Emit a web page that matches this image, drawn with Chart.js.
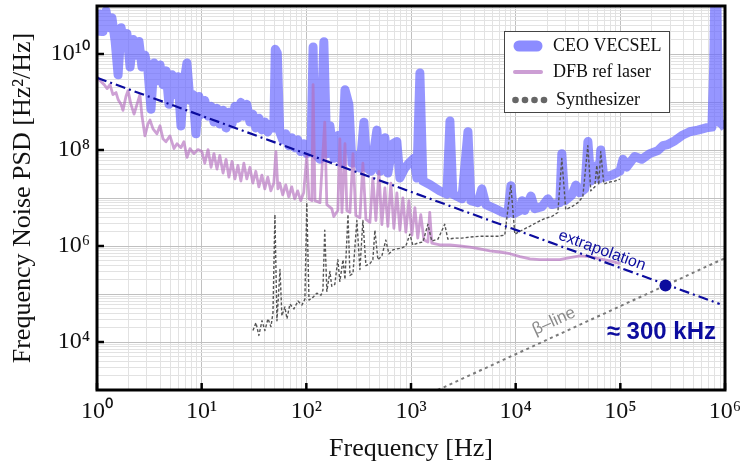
<!DOCTYPE html>
<html>
<head>
<meta charset="utf-8">
<script src="https://cdn.jsdelivr.net/npm/chart.js@4.4.1/dist/chart.umd.min.js"></script>
<style>
  body { margin: 0; background: #fff; }
  canvas { display: block; }
</style>
</head>
<body>
<canvas id="myChart" width="744" height="470"></canvas>
<script>
// CEO VECSEL (Hz, Hz^2/Hz)
var vecselFreq = [
  1.00, 1.07, 1.14, 1.22, 1.30, 1.39, 1.49, 1.59, 1.70, 1.81,
  1.93, 2.07, 2.21, 2.36, 2.52, 2.69, 2.87, 3.07, 3.28, 3.50,
  3.74, 4.00, 4.27, 4.56, 4.87, 5.20, 5.55, 5.93, 6.34, 6.77,
  7.23, 7.72, 8.25, 8.81, 9.41, 10.05, 10.7, 11.5, 12.3, 13.1,
  14.0, 14.9, 16.0, 17.1, 18.2, 19.5, 20.8, 22.2, 23.7, 25.3,
  27.0, 28.9, 30.8, 32.9, 35.2, 37.6, 40.1, 42.8, 45.8, 48.9,
  50.5, 52.8, 55.7, 59.5, 63.6, 67.9, 72.5, 77.4, 82.7, 88.3,
  94.3, 100.7, 111, 116, 121, 135, 147, 157, 168, 184,
  200, 219, 234, 255, 273, 304, 325, 355, 379, 414,
  472, 505, 563, 601, 671, 733, 783, 874, 955, 1067,
  1138, 1216, 1300, 1517, 1888, 2203, 2355, 2512, 3062, 3500,
  3733, 4355, 4753, 5190, 6324, 7550, 8420, 9000, 9600, 1.1e4,
  1.15e4, 1.22e4, 1.4e4, 1.52e4, 1.78e4, 2.03e4, 2.22e4, 2.64e4, 2.76e4, 2.95e4,
  3.44e4, 3.76e4, 4.1e4, 4.58e4, 4.9e4, 5.22e4, 5.97e4, 6.24e4, 6.5e4, 6.95e4,
  8.3e4, 9.9e4, 1.06e5, 1.15e5, 1.37e5, 1.6e5, 1.91e5, 2.28e5, 2.55e5, 2.84e5,
  3.32e5, 3.87e5, 4.6e5, 5.5e5, 6.6e5, 7.5e5, 7.8e5, 8.0e5, 8.35e5, 8.7e5,
  9.3e5, 1e6
];
var vecselPsd = [
  2.43e10, 6.86e10, 2.93e10, 7.9e10, 3.54e10, 5.68e10, 1.83e10, 3.68e9, 3.54e10, 1.51e10,
  2.67e10, 5.37e9, 2.01e10, 9.45e9, 1.83e10, 5.37e9, 9.45e9, 4.45e9, 7.06e8, 6.48e9,
  2.77e9, 5.9e9, 2.30e9, 4.45e9, 8.93e8, 3.68e9, 1.43e9, 3.35e9, 3.16e8, 2.52e9,
  6.48e9, 1.08e9, 1.43e9, 2.17e8, 1.30e9, 5.57e8, 1.08e9, 5.07e8, 8.13e8, 3.82e8,
  7.4e8, 3.47e8, 6.73e8, 2.88e8, 6.12e8, 3.47e8, 8.13e8, 4.61e8, 9.82e8, 5.07e8,
  8.93e8, 3.82e8, 5.57e8, 2.88e8, 4.61e8, 2.62e8, 3.82e8, 2.38e8, 3.47e8, 2.88e8,
  1.25e10, 1.04e10, 2.38e8, 1.63e8, 2.17e8, 1.23e8, 1.80e8, 1.12e8, 1.63e8, 9.27e7,
  1.35e8, 8.43e7, 1.35e8, 1.4e10, 8.4e7, 6.4e7, 1.8e10, 8.4e7, 3.2e8, 6.7e7,
  2.0e8, 5.3e7, 1.8e9, 8.9e8, 5.3e7, 7.7e7, 4.2e7, 3.8e8, 4.2e7, 3.6e7,
  2.6e8, 3.6e7, 1.8e8, 3.3e7, 1.35e8, 1.5e8, 2.6e7, 4.2e7, 5.3e7, 6.7e7,
  2.6e7, 4.0e9, 2.25e7, 1.9e7, 1.4e7, 1.2e7, 4.0e8, 1.2e7, 9.6e6, 2.4e8,
  8.8e6, 8.0e6, 1.55e7, 7.3e6, 6.0e6, 5.0e6, 4.7e6, 1.8e7, 4.7e6, 5.5e6,
  8.8e6, 5.5e6, 1.1e7, 6.0e6, 6.6e6, 9.6e6, 7.3e6, 8.0e6, 8.4e7, 8.8e6,
  1.16e7, 1.86e7, 1.28e7, 1.55e7, 1.5e8, 2.25e7, 4.8e7, 2.5e7, 1.0e8, 2.7e7,
  3.0e7, 3.6e7, 6.4e7, 4.4e7, 7.3e7, 6.4e7, 8.4e7, 9.7e7, 1.23e8, 1.3e8,
  1.56e8, 2.0e8, 2.4e8, 2.6e8, 2.9e8, 3.0e8, 5.9e9, 2e11, 2e11, 3.8e8,
  3.5e8, 2.9e8
];

// DFB ref laser
var dfbFreq = [
  1, 1.07, 1.17, 1.25, 1.33, 1.42, 1.52, 1.59, 1.70, 1.77,
  1.89, 1.98, 2.11, 2.26, 2.41, 2.57, 2.69, 2.87, 3.07, 3.21,
  3.43, 3.74, 4.0, 4.27, 4.56, 4.98, 5.44, 5.81, 6.34, 6.77,
  7.24, 7.73, 8.44, 9.22, 10.05, 10.7, 11.5, 12.3, 13.1, 14.0,
  14.9, 16.0, 17.1, 18.2, 19.5, 20.8, 22.2, 23.7, 25.3, 27.0,
  28.9, 30.8, 32.9, 35.2, 37.6, 40.1, 42.8, 45.8, 48.9, 51.2,
  53.5, 55.7, 59.5, 63.6, 67.9, 72.5, 77.4, 82.7, 88.3, 94.3,
  101, 106, 113, 116, 121, 135, 150, 157, 175, 183,
  200, 209, 219, 234, 244, 261, 279, 297, 325, 347,
  371, 405, 432, 462, 493, 527, 563, 601, 642, 686,
  733, 783, 836, 893, 955, 1020, 1090, 1160, 1240, 1330,
  1450, 1510, 1580, 1890, 2350, 2930, 3650, 4550, 5670, 7060,
  8810, 1.1e4, 1.37e4, 1.7e4, 2.12e4, 2.64e4, 3.3e4, 4.1e4, 5.12e4, 6.37e4,
  7.94e4, 9.9e4
];
var dfbPsd = [
  3.35e9, 2.77e9, 2.3e9, 1.9e9, 2.3e9, 1.43e9, 1.57e9, 1.13e9, 8.9e8, 6.7e8,
  1.3e9, 1.73e9, 8.9e8, 5.6e8, 8.9e8, 1.43e9, 5.1e8, 1.97e8, 3.5e8, 4.2e8,
  2.75e8, 2.17e8, 3.2e8, 1.71e8, 1.49e8, 1.97e8, 1.07e8, 1.35e8, 1.12e8, 1.49e8,
  7.0e7, 1.07e8, 8.4e7, 1.02e8, 9.27e7, 5.3e7, 1.02e8, 4.37e7, 8.43e7, 4.0e7,
  7.7e7, 3.3e7, 6.4e7, 2.72e7, 5.8e7, 2.5e7, 4.8e7, 2.25e7, 5.3e7, 2.5e7,
  4.37e7, 2.05e7, 3.6e7, 1.7e7, 3.0e7, 1.55e7, 2.72e7, 1.41e7, 2.05e7, 9.27e7,
  1.55e7, 2.05e7, 1.16e7, 1.87e7, 1.06e7, 1.7e7, 9.6e6, 1.41e7, 8.8e6, 1.28e7,
  7.7e7, 9.6e6, 8.8e6, 2.3e9, 8.8e6, 8.0e6, 3.8e8, 7.3e6, 6.0e6, 4.1e6,
  5.5e6, 1.71e8, 5.0e6, 1.35e8, 5.5e6, 5.0e6, 8.4e7, 4.3e6, 3.9e6, 5.3e7,
  3.6e6, 3.1e6, 2.6e7, 3.4e6, 3.6e7, 2.8e6, 1.62e7, 2.57e6, 2.05e7, 2.34e6,
  1.28e7, 2.13e6, 1.01e7, 1.94e6, 8.8e6, 1.68e6, 6.3e6, 1.46e6, 4.5e6, 1.33e6,
  1.21e6, 5.0e6, 1.15e6, 1.05e6, 1.05e6, 1.0e6, 9.5e5, 8.7e5, 7.9e5, 7.5e5,
  6.9e5, 6.0e5, 5.4e5, 5.2e5, 5.2e5, 5.2e5, 5.7e5, 6.25e5, 6.0e5, 5.4e5,
  4.9e5, 4.3e5
];

// Synthesizer
var synthFreq = [
  30.9, 33.0, 35.2, 37.7, 40.2, 43.0, 45.9, 48.0, 50.1, 52.4,
  56.0, 58.4, 62.4, 65.3, 69.7, 76.1, 83.2, 90.8, 96.9, 101,
  106, 116, 126, 138, 144, 150, 157, 168, 175, 187,
  200, 209, 224, 234, 250, 261, 279, 304, 325, 347,
  371, 405, 432, 452, 483, 527, 575, 615, 671, 733,
  818, 893, 975, 1040, 1160, 1300, 1450, 1580, 1810, 2100,
  2250, 2620, 3060, 3650, 4550, 5670, 6760, 7870, 8990, 9820,
  1.15e4, 1.36e4, 1.59e4, 1.90e4, 2.21e4, 2.53e4, 2.76e4, 3.01e4, 3.44e4, 3.93e4,
  4.38e4, 4.89e4, 5.22e4, 5.70e4, 5.96e4, 6.22e4, 6.50e4, 6.95e4, 7.93e4, 8.85e4, 9.89e4
];
var synthPsd = [
  1.73e4, 2.52e4, 1.37e4, 2.77e4, 1.73e4, 3.05e4, 2.09e4, 4.05e4, 4.53e6, 2.77e4,
  3.23e5, 3.51e4, 5.37e4, 3.05e4, 6.19e4, 4.89e4, 7.13e4, 5.90e4, 7.83e4, 7.98e6,
  7.47e4, 8.60e4, 1.04e5, 9.46e4, 1.20e5, 2.13e6, 1.14e5, 2.94e5, 1.45e5, 1.59e5,
  5.17e5, 1.83e5, 5.17e5, 2.01e5, 4.53e6, 2.43e5, 2.67e5, 3.41e6, 3.23e5, 3.41e6,
  3.90e5, 4.28e5, 5.17e5, 2.13e6, 5.17e5, 6.25e5, 1.33e6, 6.87e5, 8.29e5, 8.69e5,
  9.10e5, 1.0e6, 1.76e6, 1.05e6, 1.15e6, 1.21e6, 2.83e6, 1.27e6, 1.39e6, 2.83e6,
  1.39e6, 1.46e6, 1.46e6, 1.53e6, 1.60e6, 1.60e6, 1.60e6, 1.68e6, 1.87e7, 1.76e6,
  2.13e6, 2.57e6, 3.10e6, 3.75e6, 4.12e6, 4.98e6, 6.67e7, 5.74e6, 6.61e6, 7.98e6,
  1.06e7, 1.23e8, 1.41e7, 1.70e7, 4.80e7, 1.87e7, 9.27e7, 1.96e7, 2.15e7, 2.25e7, 2.48e7
];

// guide lines and crossing point
var extrapFreq = [1, 8.9e5];
var extrapPsd = [3.2e9, 6.2e4];
var betaFreq = [1.8e3, 1e6];
var betaPsd = [1.0e3, 5.6e5];
var crossFreq = [2.7e5];
var crossPsd = [1.5e5];

var xTickExp = [0, 1, 2, 3, 4, 5, 6];
var yTickExp = [4, 6, 8, 10];

var NAVY = '#0c0c9e';
var SERIF = "'Liberation Serif', 'Times New Roman', serif";
var SANS = "'Liberation Sans', Arial, sans-serif";

function pairs(fx, py) {
  var out = [];
  for (var i = 0; i < fx.length; i++) out.push({x: fx[i], y: py[i]});
  return out;
}

var supDigits = {'0':'\u2070','1':'\u00b9','2':'\u00b2','3':'\u00b3','4':'\u2074','5':'\u2075','6':'\u2076','7':'\u2077','8':'\u2078','9':'\u2079'};
function powLabel(e) {
  return '10' + String(e).split('').map(function(c){ return supDigits[c]; }).join('');
}
function expOf(v) {
  var l = Math.log10(v);
  return Math.abs(l - Math.round(l)) < 1e-6 ? Math.round(l) : null;
}
function logTicks(lo, hi) {
  var t = [];
  for (var e = lo; e < hi; e++)
    for (var m = 1; m < 10; m++) t.push({value: m * Math.pow(10, e)});
  t.push({value: Math.pow(10, hi)});
  return t;
}
function gridColor(c) {
  if (!c.tick) return '#e2e2e2';
  return expOf(c.tick.value) !== null ? '#c0c0c0' : '#e2e2e2';
}

var decorPlugin = {
  id: 'decor',
  afterDatasetsDraw: function(chart) {
    var ctx = chart.ctx, a = chart.chartArea, xs = chart.scales.x, ys = chart.scales.y;
    ctx.save();

    // inward major ticks
    ctx.strokeStyle = '#000';
    ctx.lineWidth = 2.5;
    xTickExp.forEach(function(e) {
      var px = xs.getPixelForValue(Math.pow(10, e));
      ctx.beginPath(); ctx.moveTo(px, a.bottom); ctx.lineTo(px, a.bottom - 7); ctx.stroke();
    });
    yTickExp.forEach(function(e) {
      var py = ys.getPixelForValue(Math.pow(10, e));
      ctx.beginPath(); ctx.moveTo(a.left, py); ctx.lineTo(a.left + 7, py); ctx.stroke();
    });

    // frame
    ctx.lineWidth = 3;
    ctx.strokeRect(a.left, a.top, a.right - a.left, a.bottom - a.top);

    // "extrapolation" along the dash-dot line
    var x0 = xs.getPixelForValue(extrapFreq[0]), y0 = ys.getPixelForValue(extrapPsd[0]);
    var x1 = xs.getPixelForValue(extrapFreq[1]), y1 = ys.getPixelForValue(extrapPsd[1]);
    var ang = Math.atan2(y1 - y0, x1 - x0);
    var tx = xs.getPixelForValue(6.2e4);
    var ty = y0 + (tx - x0) * Math.tan(ang);
    ctx.save();
    ctx.translate(tx + 10 * Math.sin(ang), ty - 10 * Math.cos(ang));
    ctx.rotate(ang);
    ctx.font = '16px ' + SANS;
    ctx.fillStyle = NAVY;
    ctx.textAlign = 'center';
    ctx.textBaseline = 'middle';
    ctx.fillText('extrapolation', 0, 0);
    ctx.restore();

    // "β–line"
    var b0x = xs.getPixelForValue(betaFreq[0]), b0y = ys.getPixelForValue(betaPsd[0]);
    var b1x = xs.getPixelForValue(betaFreq[1]), b1y = ys.getPixelForValue(betaPsd[1]);
    var bang = Math.atan2(b1y - b0y, b1x - b0x);
    var bx = xs.getPixelForValue(2.64e4);
    var by = b0y + (bx - b0x) * Math.tan(bang);
    ctx.save();
    ctx.translate(bx + 14 * Math.sin(bang), by - 14 * Math.cos(bang));
    ctx.rotate(bang);
    ctx.font = '17px ' + SANS;
    ctx.fillStyle = '#8a8a8a';
    ctx.textAlign = 'center';
    ctx.textBaseline = 'middle';
    ctx.fillText('\u03b2\u2013line', 0, 0);
    ctx.restore();

    // crossing frequency
    ctx.font = 'bold 24px ' + SANS;
    ctx.fillStyle = NAVY;
    ctx.textAlign = 'right';
    ctx.textBaseline = 'middle';
    ctx.fillText('\u2248 300 kHz', a.right - 9, ys.getPixelForValue(1.57e4));

    ctx.restore();
  },
  afterDraw: function(chart) {
    var ctx = chart.ctx, a = chart.chartArea;
    var lx = a.right - 221, ly = 31, lw = 165, lh = 81;
    ctx.save();
    ctx.fillStyle = '#fff';
    ctx.fillRect(lx, ly, lw, lh);
    ctx.strokeStyle = '#444';
    ctx.lineWidth = 1;
    ctx.strokeRect(lx + 0.5, ly + 0.5, lw, lh);

    ctx.lineCap = 'round';
    ctx.strokeStyle = 'rgb(140,140,255)';
    ctx.lineWidth = 11;
    ctx.beginPath(); ctx.moveTo(lx + 15, ly + 15); ctx.lineTo(lx + 33, ly + 15); ctx.stroke();

    ctx.strokeStyle = 'rgb(204,158,212)';
    ctx.lineWidth = 4;
    ctx.beginPath(); ctx.moveTo(lx + 11, ly + 41); ctx.lineTo(lx + 37, ly + 41); ctx.stroke();

    ctx.fillStyle = '#666';
    for (var k = 0; k < 4; k++) {
      ctx.beginPath(); ctx.arc(lx + 11.5 + k * 9.5, ly + 69, 3.3, 0, Math.PI * 2); ctx.fill();
    }

    ctx.font = '18px ' + SERIF;
    ctx.fillStyle = '#111';
    ctx.textAlign = 'left';
    ctx.textBaseline = 'middle';
    ctx.fillText(chart.data.datasets[5].label, lx + 49, ly + 15);
    ctx.fillText(chart.data.datasets[4].label, lx + 49, ly + 41);
    ctx.fillText(chart.data.datasets[3].label, lx + 52, ly + 69);
    ctx.restore();
  }
};

var ctx = document.getElementById('myChart');

var myChart = new Chart(ctx, {
  type: 'line',
  data: {
    datasets: [
      {
        label: 'crossing',
        data: pairs(crossFreq, crossPsd),
        showLine: false,
        pointRadius: 6,
        pointBackgroundColor: NAVY,
        pointBorderWidth: 0,
        order: 0
      },
      {
        label: 'extrapolation',
        data: pairs(extrapFreq, extrapPsd),
        borderColor: NAVY,
        borderWidth: 2.2,
        borderDash: [10, 4, 2, 4],
        pointRadius: 0,
        order: 1
      },
      {
        label: 'beta-line',
        data: pairs(betaFreq, betaPsd),
        borderColor: '#7a7a7a',
        borderWidth: 2,
        borderDash: [3, 3.5],
        pointRadius: 0,
        order: 2
      },
      {
        label: 'Synthesizer',
        data: pairs(synthFreq, synthPsd),
        borderColor: '#555',
        borderWidth: 1.4,
        borderDash: [3, 2],
        borderJoinStyle: 'round',
        pointRadius: 0,
        order: 3
      },
      {
        label: 'DFB ref laser',
        data: pairs(dfbFreq, dfbPsd),
        borderColor: 'rgba(180,110,190,0.65)',
        borderWidth: 2.8,
        borderJoinStyle: 'round',
        pointRadius: 0,
        order: 4
      },
      {
        label: 'CEO VECSEL',
        data: pairs(vecselFreq, vecselPsd),
        borderColor: 'rgba(100,100,255,0.68)',
        borderWidth: 9,
        borderJoinStyle: 'round',
        pointRadius: 0,
        order: 5
      }
    ]
  },
  options: {
    responsive: false,
    animation: false,
    events: [],
    clip: 0,
    layout: { padding: { top: 1, right: 19, bottom: 0, left: 0 } },
    scales: {
      x: {
        type: 'logarithmic',
        min: 1,
        max: 1e6,
        afterBuildTicks: function(s) { s.ticks = logTicks(0, 6); },
        afterFit: function(s) { s.height = 80; s.paddingLeft = 0; s.paddingRight = 0; },
        border: { display: false },
        grid: { color: gridColor, lineWidth: 1, drawTicks: false },
        ticks: {
          autoSkip: false,
          maxRotation: 0,
          padding: 7,
          color: '#111',
          font: { family: SERIF, size: 24 },
          callback: function(v) { var e = expOf(v); return e === null ? '' : powLabel(e); }
        },
        title: {
          display: true,
          text: 'Frequency [Hz]',
          color: '#111',
          font: { family: SERIF, size: 26 },
          padding: { top: 0, bottom: 5 }
        }
      },
      y: {
        type: 'logarithmic',
        min: 1e3,
        max: 1e11,
        afterBuildTicks: function(s) { s.ticks = logTicks(3, 11); },
        afterFit: function(s) { s.width = 97; s.paddingTop = 0; s.paddingBottom = 0; },
        border: { display: false },
        grid: { color: gridColor, lineWidth: 1, drawTicks: false },
        ticks: {
          autoSkip: false,
          padding: 7,
          color: '#111',
          font: { family: SERIF, size: 24 },
          callback: function(v) {
            var e = expOf(v);
            return (e !== null && yTickExp.indexOf(e) >= 0) ? powLabel(e) : '';
          }
        },
        title: {
          display: true,
          text: 'Frequency Noise PSD [Hz\u00b2/Hz]',
          color: '#111',
          font: { family: SERIF, size: 26 },
          padding: { top: 8, bottom: 0 }
        }
      }
    },
    plugins: {
      legend: { display: false },
      tooltip: { enabled: false }
    }
  },
  plugins: [decorPlugin]
});
</script>
</body>
</html>
